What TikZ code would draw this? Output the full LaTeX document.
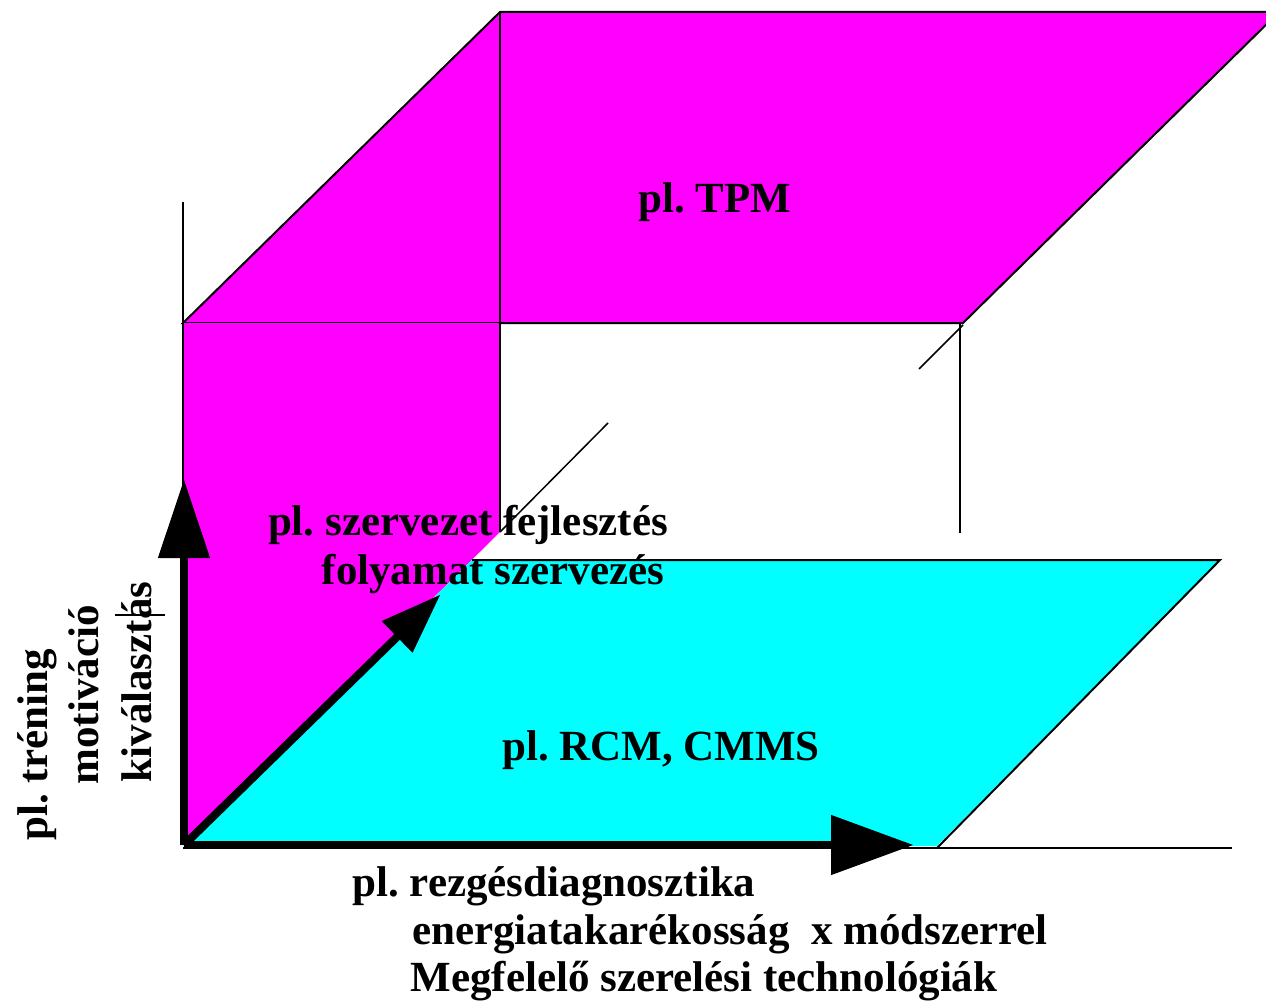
\documentclass[tikz,border=0pt]{standalone}
\usepackage{fontspec}
\setmainfont{Liberation Serif}
\usetikzlibrary{arrows.meta}
\definecolor{mag}{RGB}{255,0,255}
\definecolor{cyn}{RGB}{0,255,255}
\frenchspacing
\begin{document}
\begin{tikzpicture}[x=1pt,y=-1pt,
  lbl/.style={font=\fontsize{43}{50}\selectfont\bfseries\frenchspacing, inner sep=0pt, anchor=base},
  edgeline/.style={line width=2pt, draw=black},
  axis/.style={line width=8pt, draw=black}]
\useasboundingbox (0,0) rectangle (1266,1003);
\clip (0,0) rectangle (1266,1003);
\fill[white] (0,0) rectangle (1266,1003);

% top plane
\filldraw[edgeline, fill=mag, line join=miter] (183,323) -- (500,12) -- (1279,12) -- (963,323) -- cycle;
% left wall
\fill[mag] (183,323) -- (500,323) -- (500,532) -- (183,845) -- cycle;
% bottom plane
\fill[cyn] (183,846) -- (937,846) -- (1220,560) -- (472,560) -- cycle;
\draw[edgeline] (472,560) -- (1220,560) -- (937,848);

% frame lines
\draw[edgeline] (183,202) -- (183,845);
\draw[edgeline] (500,12) -- (500,532);
\draw[line width=1.5pt] (500,532) -- (608,423);
\draw[edgeline] (960,323) -- (960,533);
\draw[line width=1.5pt] (919,369) -- (963,325);
\draw[edgeline] (183,848) -- (1232,848);
\draw[line width=1.5pt] (115,615) -- (165,615);

% axes
\coordinate (O) at (184,845);
\coordinate (Ytip) at (184,480);
\coordinate (Xtip) at (913,845);
\coordinate (Ztip) at (440,595);
\draw[axis, -{Triangle[length=78pt,width=52pt,line width=1pt]}] (O) -- (Ytip);
\draw[axis, -{Triangle[length=82pt,width=60pt,line width=1pt]}] (O) -- (Xtip);
\draw[axis, -{Triangle[length=60pt,width=44pt,line width=1pt]}] (O) -- (Ztip);

% labels
\node[lbl] (tpm) at (715,213) {pl. TPM};
\node[lbl] (rcm) at (661,760) {pl. RCM, CMMS};
\node[lbl] (szerv1) at (468,535) {pl. szervezet fejlesztés};
\node[lbl] (szerv2) at (493,584) {folyamat szervezés};
\node[lbl, rotate=90] (tren) at (47,745) {pl. tréning};
\node[lbl, rotate=90] (motiv) at (98,695) {motiváció};
\node[lbl, rotate=90] (kival) at (151,682) {kiválasztás};
\node[lbl] (rezg) at (554,896) {pl. rezgésdiagnosztika};
\node[lbl] (energ) at (730,944) {energiatakarékosság~~x módszerrel};
\node[lbl] (szerel) at (704,991) {Megfelelő szerelési technológiák};
\end{tikzpicture}
\end{document}
